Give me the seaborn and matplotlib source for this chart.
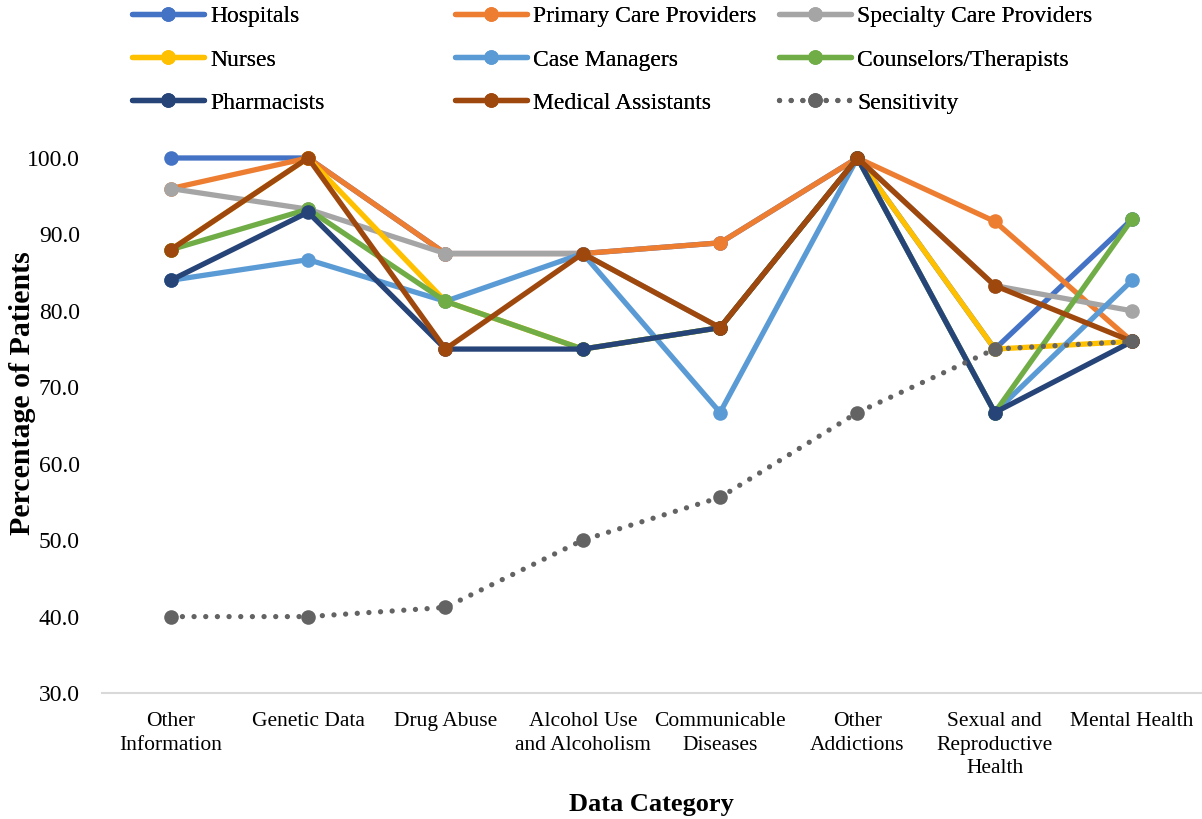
import matplotlib
matplotlib.use("Agg")
import matplotlib.pyplot as plt
import seaborn as sns
import pandas as pd
from matplotlib.lines import Line2D

categories = [
    "Other\nInformation", "Genetic Data", "Drug Abuse", "Alcohol Use\nand Alcoholism",
    "Communicable\nDiseases", "Other\nAddictions", "Sexual and\nReproductive\nHealth",
    "Mental Health",
]

hospitals = [100.0, 100.0, 87.5, 87.5, 88.9, 100.0, 75.0, 92.0]
primary_care = [96.0, 100.0, 87.5, 87.5, 88.9, 100.0, 91.7, 76.0]
specialty_care = [96.0, 93.3, 87.5, 87.5, 77.8, 100.0, 83.3, 80.0]
nurses = [88.0, 100.0, 81.25, 75.0, 77.8, 100.0, 75.0, 76.0]
case_managers = [84.0, 86.7, 81.25, 87.5, 66.7, 100.0, 66.7, 84.0]
counselors = [88.0, 93.3, 81.25, 75.0, 77.8, 100.0, 66.7, 92.0]
pharmacists = [84.0, 92.9, 75.0, 75.0, 77.8, 100.0, 66.7, 76.0]
medical_assistants = [88.0, 100.0, 75.0, 87.5, 77.8, 100.0, 83.3, 76.0]
sensitivity = [40.0, 40.0, 41.2, 50.0, 55.6, 66.7, 75.0, 76.0]

y_ticks = [30, 40, 50, 60, 70, 80, 90, 100]

series_names = [
    "Hospitals", "Primary Care Providers", "Specialty Care Providers",
    "Nurses", "Case Managers", "Counselors/Therapists",
    "Pharmacists", "Medical Assistants", "Sensitivity",
]
series_values = [
    hospitals, primary_care, specialty_care, nurses, case_managers,
    counselors, pharmacists, medical_assistants, sensitivity,
]
colors = [
    "#4472C4", "#ED7D31", "#A5A5A5", "#FFC000", "#5B9BD5",
    "#70AD47", "#264478", "#9E480E", "#636363",
]

sns.set_theme(style="white")
plt.rcParams["font.family"] = ["Liberation Serif", "DejaVu Serif"]
plt.rcParams["text.color"] = "#000000"

fig = plt.figure(figsize=(12.02, 8.19), dpi=100)
ax = fig.add_axes([0.0849, 0.1538, 0.9141, 0.6533])

LW = 3.8
MS = 10.5
dot_style = (0, (0.01, 2.2))

for name, vals, col in zip(series_names, series_values, colors):
    df = pd.DataFrame({"x": list(range(len(categories))), "y": vals})
    sns.lineplot(data=df, x="x", y="y", ax=ax, color=col, linewidth=LW,
                 marker="o", markersize=MS, markeredgewidth=0,
                 sort=False, legend=False, clip_on=False)
    line = ax.get_lines()[-1]
    line.set_solid_capstyle("round")
    if name == "Sensitivity":
        line.set_linestyle(dot_style)
        line.set_dash_capstyle("round")

ax.set_xlim(-0.5, len(categories) - 0.5)
ax.set_ylim(30, 100)
ax.set_yticks(y_ticks)
ax.set_yticklabels([f"{v:.1f}" for v in y_ticks])
ax.set_xticks(range(len(categories)))
ax.set_xticklabels(categories, linespacing=1.32)
ax.tick_params(axis="both", length=0, colors="#000000")
ax.tick_params(axis="x", labelsize=15.5, pad=14)
ax.tick_params(axis="y", labelsize=17, pad=16)

for s in ["left", "right", "top"]:
    ax.spines[s].set_visible(False)
ax.spines["bottom"].set_color("#D9D9D9")
ax.spines["bottom"].set_linewidth(1.5)
ax.grid(False)

ax.set_xlabel("Data Category", fontsize=19, fontweight="bold", color="#000000")
ax.xaxis.set_label_coords(0.5, -0.187)
ax.set_ylabel("Percentage of Patients", fontsize=21.5, fontweight="bold",
              color="#000000")
ax.yaxis.set_label_coords(-0.060, 0.561)

# legend: three fixed-width columns, filled row by row
handles = []
for name, col in zip(series_names, colors):
    ls = dot_style if name == "Sensitivity" else "-"
    handles.append(Line2D([], [], color=col, linewidth=LW, marker="o",
                          markersize=MS, markeredgewidth=0, linestyle=ls,
                          solid_capstyle="round", dash_capstyle="round"))

col_x = [132 / 1202, 455 / 1202, 779 / 1202]
for c in range(3):
    idx = [c, c + 3, c + 6]
    leg = fig.legend([handles[i] for i in idx], [series_names[i] for i in idx],
                     loc="upper left", bbox_to_anchor=(col_x[c], 0.993),
                     frameon=False, fontsize=17, handlelength=3.05,
                     handletextpad=0.25, labelspacing=0.92, borderpad=0,
                     borderaxespad=0)
    fig.add_artist(leg)

fig.savefig("out.png", dpi=100)
